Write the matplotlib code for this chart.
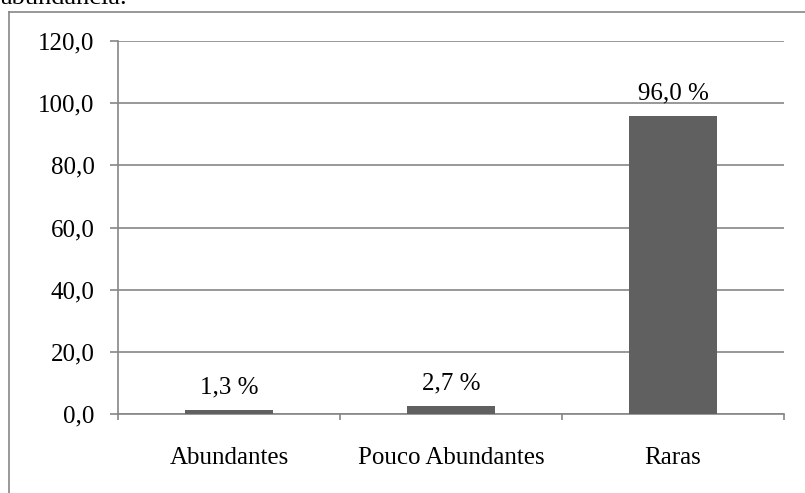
import matplotlib
matplotlib.use("Agg")
import matplotlib.pyplot as plt
from matplotlib.lines import Line2D

categories = ["Abundantes", "Pouco Abundantes", "Raras"]
values = [1.3, 2.7, 96.0]
value_labels = ["1,3 %", "2,7 %", "96,0 %"]
yticks = [0, 20, 40, 60, 80, 100, 120]
ytick_labels = ["0,0", "20,0", "40,0", "60,0", "80,0", "100,0", "120,0"]

plt.rcParams["font.family"] = ["Liberation Serif", "DejaVu Serif"]

W, H = 805, 493
fig = plt.figure(figsize=(W / 100, H / 100), dpi=100)
fig.patch.set_facecolor("white")

axis_col = "#868686"
bar_col = "#606060"
fs = 18

# outer chart frame
fig.add_artist(Line2D([9 / W, 9 / W], [0, 1 - 12 / H], transform=fig.transFigure,
                      color=axis_col, lw=1.2))
fig.add_artist(Line2D([9 / W, 1], [1 - 12 / H, 1 - 12 / H], transform=fig.transFigure,
                      color=axis_col, lw=1.2))

# caption fragment above the frame
fig.text(0, 1 + 13 / H, "abundancia.", fontsize=19, ha="left", va="top")

ax = fig.add_axes([118 / W, 1 - 414 / H, (784 - 118) / W, (414 - 41) / H])
x = list(range(len(categories)))
ax.bar(x, values, width=0.4, color=bar_col, zorder=3)
ax.set_xlim(-0.5, len(categories) - 0.5)
ax.set_ylim(0, 120)

ax.set_yticks(yticks)
ax.set_yticklabels(ytick_labels, fontsize=fs)
ax.yaxis.grid(True, color=axis_col, lw=1.2)
ax.set_axisbelow(True)

ax.set_xticks(x)
ax.set_xticklabels(categories, fontsize=fs)
ax.set_xticks([-0.5, 0.5, 1.5, 2.5], minor=True)
ax.tick_params(axis="x", which="major", length=0, pad=24)
ax.tick_params(axis="x", which="minor", length=4.5, color=axis_col, width=1.2)
ax.tick_params(axis="y", length=6, color=axis_col, width=1.2, pad=11)

for s in ["top", "right"]:
    ax.spines[s].set_visible(False)
for s in ["left", "bottom"]:
    ax.spines[s].set_color(axis_col)
    ax.spines[s].set_linewidth(1.2)

for xi, v, lab in zip(x, values, value_labels):
    ax.annotate(lab, (xi, v), xytext=(0, 8), textcoords="offset points",
                ha="center", va="bottom", fontsize=fs)

fig.savefig("out.png", dpi=100)
